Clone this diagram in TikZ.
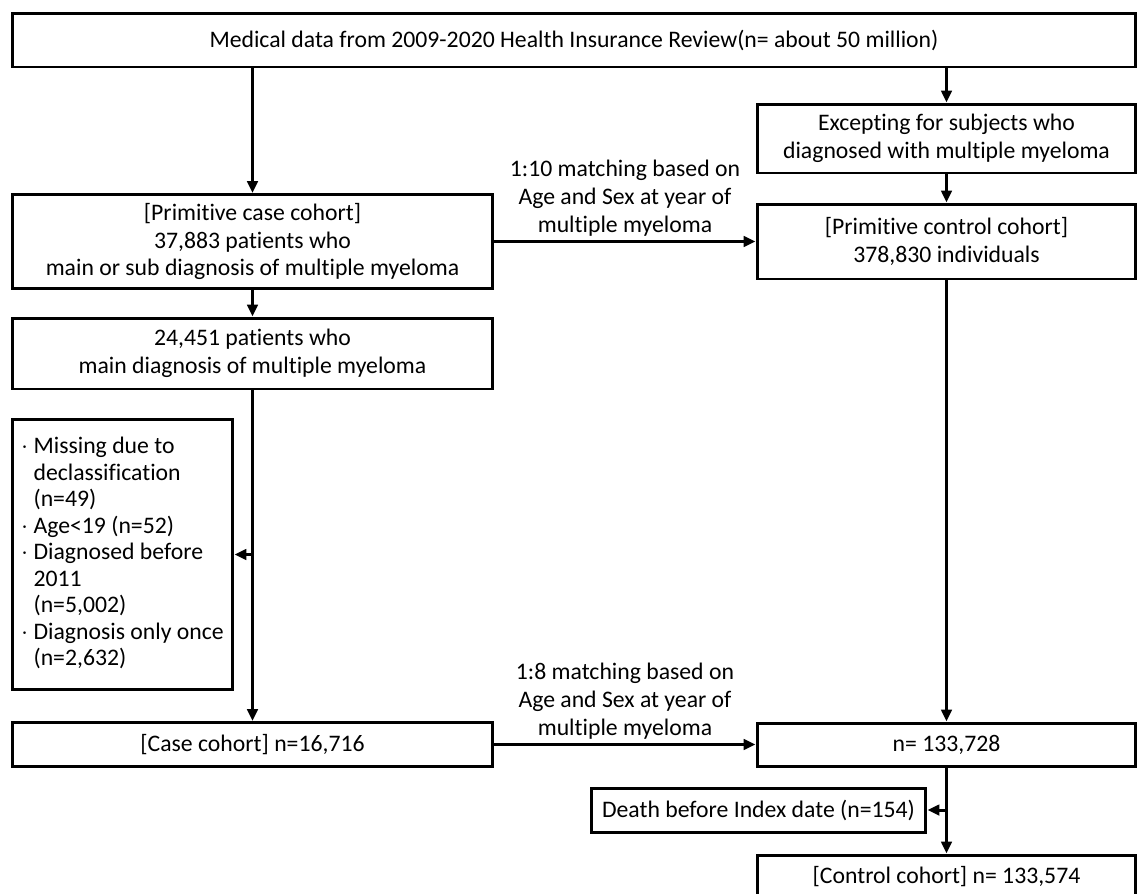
\documentclass[tikz,border=0pt]{standalone}
\usepackage{fontspec}
\setmainfont{Carlito}[Ligatures=NoCommon]
\usetikzlibrary{arrows.meta}
\usetikzlibrary{calc}

\newcommand{\boxfont}{\fontsize{13.5}{15.9}\selectfont}

\tikzset{
  cbox/.style={draw, rectangle, line width=1.7pt, inner sep=0pt, align=center, font=\boxfont},
  lbl/.style={align=center, font=\boxfont, inner sep=2pt},
  flow/.style={line width=1.7pt, -{Triangle[length=0.24cm, width=0.21cm]}}
}

\begin{document}
\begin{tikzpicture}[x=0.02cm, y=-0.02cm]

\useasboundingbox (0,0) rectangle (1143,893);

\node[cbox, minimum width=22.48cm, minimum height=1.08cm](top) at (574,40) {Medical data from 2009-2020 Health Insurance Review(n= about 50 million)};

\node[cbox, minimum width=7.58cm, minimum height=1.38cm](exc) at (946.5,138.5) {Excepting for subjects who\\diagnosed with multiple myeloma};

\node[cbox, minimum width=7.58cm, minimum height=1.5cm](pctrl) at (946.5,241.5) {[Primitive control cohort]\\378,830 individuals};

\node[cbox, minimum width=9.62cm, minimum height=1.88cm](pcase) at (252.5,241.5) {[Primitive case cohort]\\37,883 patients who\\main or sub diagnosis of multiple myeloma};

\node[cbox, minimum width=9.62cm, minimum height=1.42cm](main) at (252.5,353.5) {24,451 patients who\\main diagnosis of multiple myeloma};

\node[cbox, minimum width=4.42cm, minimum height=5.42cm](excl) at (122.5,554.5) {\fontsize{13.5}{15.1}\selectfont
\begin{tabular}{@{}l@{\ }l@{}}
$\cdot$ & Missing due to\\
 & declassification\\
 & (n=49)\\
$\cdot$ & Age<19 (n=52)\\
$\cdot$ & Diagnosed before\\
 & 2011\\
 & (n=5,002)\\
$\cdot$ & Diagnosis only once\\
 & (n=2,632)
\end{tabular}};

\node[cbox, minimum width=9.62cm, minimum height=0.88cm](ccase) at (252.5,744.5) {[Case cohort] n=16,716};

\node[cbox, minimum width=7.58cm, minimum height=0.86cm](nmatch) at (946.5,744.5) {n= 133,728};

\node[cbox, minimum width=6.7cm, minimum height=0.88cm](death) at (758.5,810) {Death before Index date (n=154)};

\node[cbox, minimum width=7.58cm, minimum height=0.88cm](ctrl) at (946.5,877) {[Control cohort] n= 133,574};

% branch points
\coordinate (b1) at (main.south |- excl.east);
\coordinate (b2) at (nmatch.south |- death.east);

\draw[flow] (pcase.north |- top.south) -- (pcase.north);
\draw[flow] (exc.north |- top.south) -- (exc.north);

\foreach \from/\to in {exc/pctrl, pcase/main, main/ccase, pctrl/nmatch, nmatch/ctrl}
    \draw[flow] (\from) -- (\to);

\draw[flow] (b1) -- (excl.east);
\draw[flow] (b2) -- (death.east);

\draw[flow] (pcase) -- node[lbl, above] {1:10 matching based on\\Age and Sex at year of\\multiple myeloma} (pctrl);
\draw[flow] (ccase) -- node[lbl, above] {1:8 matching based on\\Age and Sex at year of\\multiple myeloma} (nmatch);

\end{tikzpicture}
\end{document}
